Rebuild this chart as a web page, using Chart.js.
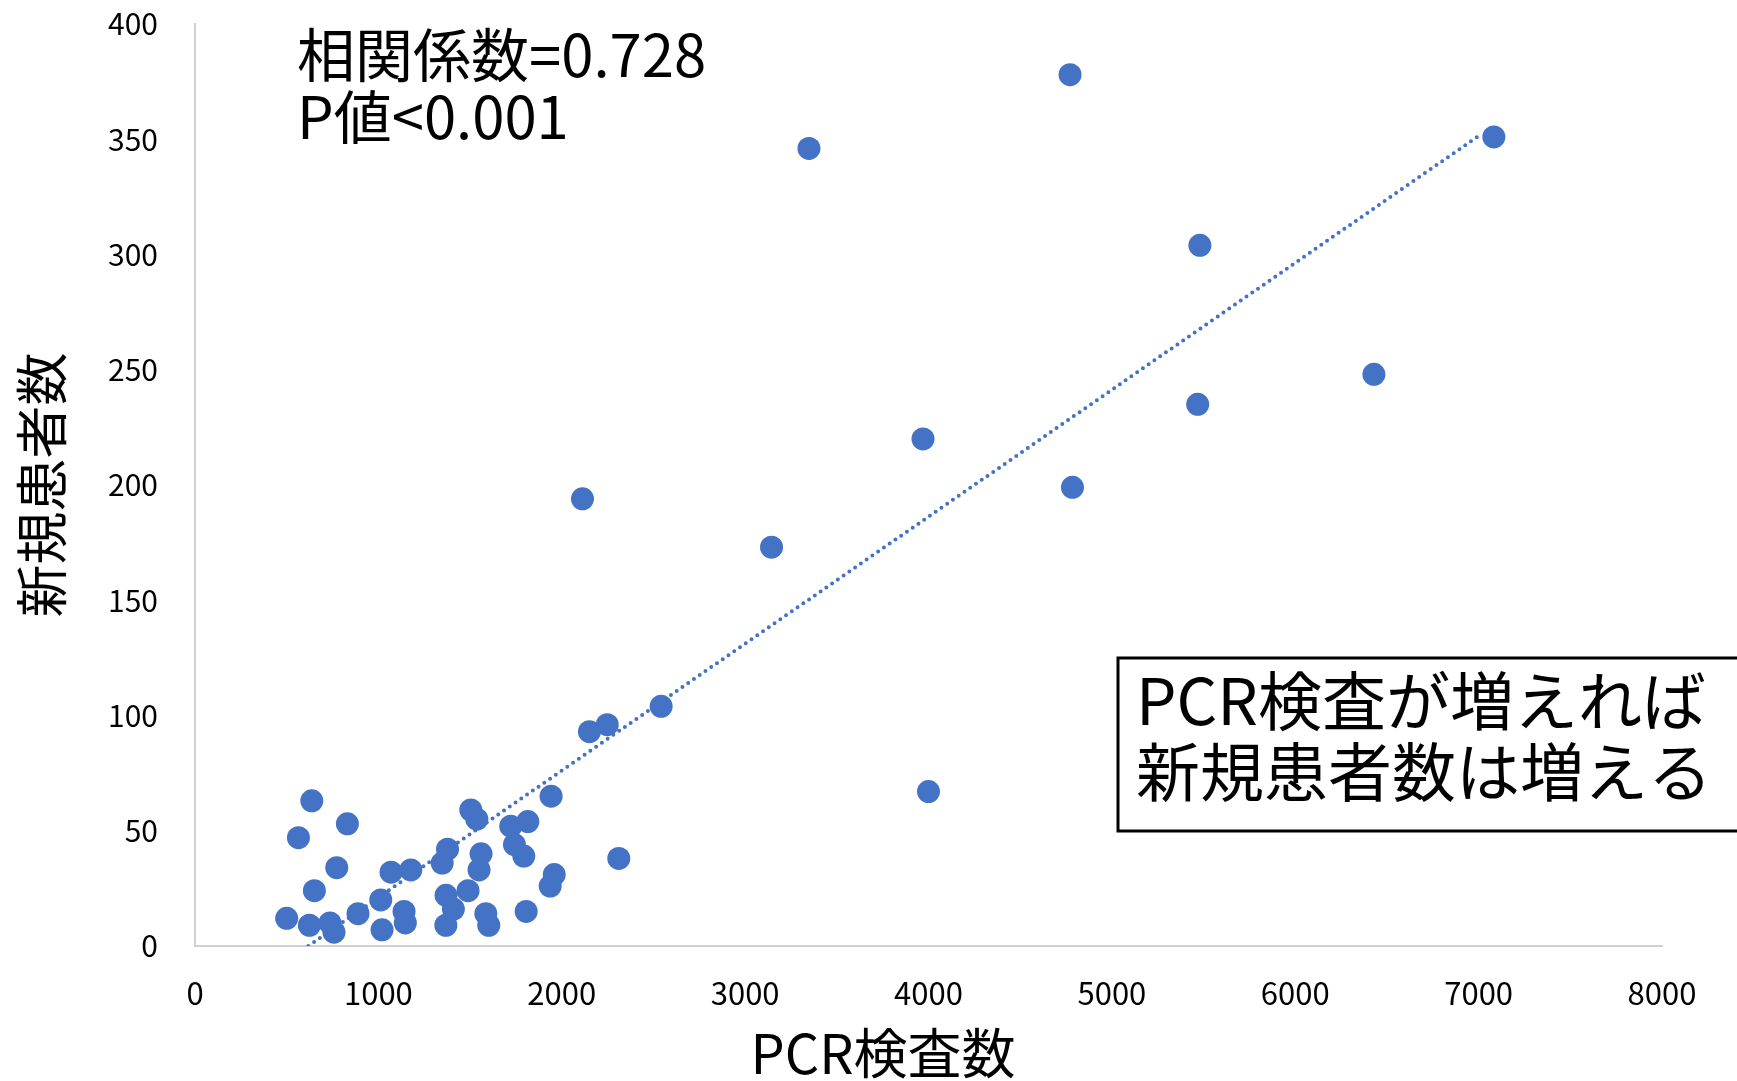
<!DOCTYPE html>
<html lang="ja">
<head>
<meta charset="utf-8">
<title>PCR検査数と新規患者数</title>
<script src="https://cdn.jsdelivr.net/npm/chart.js@4.4.1/dist/chart.umd.min.js"></script>
<style>
    html, body { margin: 0; padding: 0; background: #ffffff; }
    #caixa { width: 1737px; height: 1081px; }
</style>
</head>
<body>
<div id="caixa"><canvas id="grafico"></canvas></div>
<script>
// valores
const pcrTests = [4772, 3348, 7083, 5480, 6429, 5468, 3970, 4785, 2113, 3144,
    2542, 2248, 2151, 4000, 2311,
    637, 831, 564, 773, 651, 500, 624, 736, 758, 889,
    1013, 1020, 1069, 1177, 1140, 1147, 1377, 1348, 1369, 1409,
    1368, 1489, 1504, 1537, 1560, 1549, 1586, 1602, 1722, 1815,
    1742, 1793, 1806, 1942, 1959, 1937];
const newCases = [378, 346, 351, 304, 248, 235, 220, 199, 194, 173,
    104, 96, 93, 67, 38,
    63, 53, 47, 34, 24, 12, 9, 10, 6, 14,
    20, 7, 32, 33, 15, 10, 42, 36, 22, 16,
    9, 24, 59, 55, 40, 33, 14, 9, 52, 54,
    44, 39, 15, 65, 31, 26];

// linha de tendência (extremos)
const trendX = [618, 7010];
const trendY = [0, 352];

const xTicks = [0, 1000, 2000, 3000, 4000, 5000, 6000, 7000, 8000];
const yTicks = [0, 50, 100, 150, 200, 250, 300, 350, 400];

const textoCorrelacao = ['相関係数=0.728', 'P値<0.001'];
const textoCaixa = ['PCR検査が増えれば', '新規患者数は増える'];
const tituloX = 'PCR検査数';
const tituloY = '新規患者数';

const fonte = "'Noto Sans CJK JP', 'Noto Sans', sans-serif";
const azul = '#4472C4';

let pontos = [];
for (let i = 0; i < pcrTests.length; i++) {
    pontos.push({ x: pcrTests[i], y: newCases[i] });
}

let tendencia = [];
for (let i = 0; i < trendX.length; i++) {
    tendencia.push({ x: trendX[i], y: trendY[i] });
}

const anotacoes = {
    id: 'anotacoes',
    afterDraw(chart) {
        const ctx = chart.ctx;
        ctx.save();
        ctx.fillStyle = '#000000';
        ctx.textBaseline = 'middle';
        ctx.textAlign = 'left';

        ctx.font = `58px ${fonte}`;
        ctx.fillText(textoCorrelacao[0], 297, 55);
        ctx.fillText(textoCorrelacao[1], 297, 117);

        // caixa de texto
        ctx.fillStyle = '#ffffff';
        ctx.fillRect(1118, 658, 700, 173);
        ctx.lineWidth = 3;
        ctx.strokeStyle = '#000000';
        ctx.strokeRect(1118, 658, 700, 173);

        ctx.fillStyle = '#000000';
        ctx.font = `64px ${fonte}`;
        ctx.fillText(textoCaixa[0], 1136, 701);
        ctx.fillText(textoCaixa[1], 1136, 772);

        // título do eixo x
        ctx.textAlign = 'center';
        ctx.font = `54px ${fonte}`;
        ctx.fillText(tituloX, 883, 1053);
        ctx.restore();
    }
};

const config = {
    type: 'scatter',
    data: {
        datasets: [
            {
                label: '新規患者数',
                data: pontos,
                backgroundColor: azul,
                borderColor: azul,
                borderWidth: 0,
                pointRadius: 11.5,
                pointHoverRadius: 11.5,
                order: 0
            },
            {
                label: '線形近似',
                data: tendencia,
                type: 'line',
                showLine: true,
                borderColor: azul,
                borderWidth: 4,
                borderDash: [0, 7],
                borderCapStyle: 'round',
                pointRadius: 0,
                fill: false,
                order: 1
            }
        ]
    },
    options: {
        responsive: false,
        animation: false,
        layout: {
            autoPadding: false,
            padding: { top: 24, right: 75, left: 0, bottom: 0 }
        },
        plugins: {
            legend: { display: false },
            tooltip: { enabled: false }
        },
        scales: {
            x: {
                type: 'linear',
                min: 0,
                max: 8000,
                afterBuildTicks: function (s) {
                    s.ticks = xTicks.map(function (v) { return { value: v }; });
                },
                afterFit: function (s) { s.height = 135; },
                // tickLength faz o espaço entre eixo e rótulos (grid invisível)
                grid: { display: false, drawTicks: true, tickLength: 29 },
                border: { display: true, color: '#d0d0d0', width: 2 },
                ticks: {
                    color: '#000000',
                    padding: 0,
                    maxRotation: 0,
                    font: { family: fonte, size: 31 },
                    callback: function (v) { return String(v); }
                }
            },
            y: {
                type: 'linear',
                min: 0,
                max: 400,
                afterBuildTicks: function (s) {
                    s.ticks = yTicks.map(function (v) { return { value: v }; });
                },
                afterFit: function (s) { s.width = 195; },
                grid: { display: false, drawTicks: true, tickLength: 37 },
                border: { display: true, color: '#d0d0d0', width: 2 },
                ticks: {
                    color: '#000000',
                    padding: 0,
                    font: { family: fonte, size: 30 },
                    callback: function (v) { return String(v); }
                },
                title: {
                    display: true,
                    text: tituloY,
                    color: '#000000',
                    padding: { top: 15, bottom: 0 },
                    font: { family: fonte, size: 53, lineHeight: 1 }
                }
            }
        }
    },
    plugins: [anotacoes]
};

const canvas = document.getElementById('grafico');
canvas.width = 1737;
canvas.height = 1081;

let grafico = new Chart(canvas, config);
</script>
</body>
</html>
